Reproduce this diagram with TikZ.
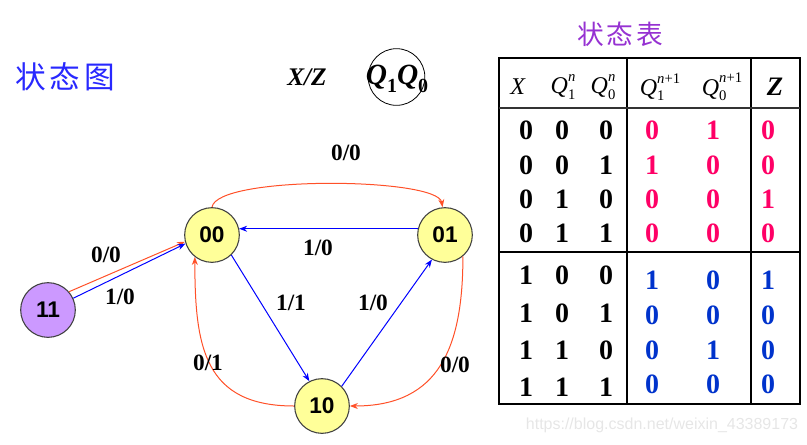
\documentclass[tikz,border=0pt]{standalone}
\usepackage{fontspec}
\setmainfont{Liberation Serif}
\newfontfamily\arial{Liberation Sans}
\newfontfamily\cjk{Noto Sans CJK SC}
\usetikzlibrary{arrows.meta}
\definecolor{stateyellow}{RGB}{255,255,153}
\definecolor{statepurple}{RGB}{204,153,255}
\definecolor{arcred}{RGB}{255,80,40}
\definecolor{tabpink}{RGB}{255,0,102}
\definecolor{tabblue}{RGB}{0,51,204}
\definecolor{titleblue}{RGB}{40,40,255}
\definecolor{titlepurple}{RGB}{150,50,210}
\definecolor{markgray}{RGB}{230,230,230}
\newcommand{\Qhd}[2]{\textit{Q}\rlap{\raisebox{-0.5ex}{\fontsize{11}{11}\selectfont #1}}\raisebox{1.1ex}{\fontsize{11}{11}\selectfont #2}}
\newcommand{\Qbig}[1]{\textbf{\textit{Q}}\raisebox{-0.55ex}{\fontsize{15}{15}\selectfont\textbf{#1}}}

\begin{document}
\begin{tikzpicture}[x=0.75pt,y=0.75pt,yscale=-1,xscale=1,
    stnode/.style={circle,draw=black!75,line width=0.8pt,minimum size=41pt,inner sep=0pt,fill=stateyellow,font=\arial\bfseries\fontsize{17}{17}\selectfont},
    lab/.style={inner sep=0.75pt,font=\bfseries\fontsize{17.5}{17.5}\selectfont},
    redarr/.style={draw=arcred,line width=0.75pt,-{Stealth[length=6pt,width=4.5pt]}},
    bluearr/.style={draw=blue,line width=0.75pt,-{Stealth[length=6pt,width=4.5pt]}},
    cell/.style={inner sep=0pt,font=\bfseries\fontsize{21}{21}\selectfont},
    head/.style={inner sep=0pt,font=\fontsize{18}{18}\selectfont},
    tabline/.style={line width=1.1pt}]
    \useasboundingbox (0,0) rectangle (807,444);
    \node (title1) at (65,77) [inner sep=0pt,text=titleblue,font=\cjk\fontsize{23}{23}\selectfont] {状\hspace{3pt}态\hspace{3pt}图};
    \node (xz) at (307,77) [inner sep=0pt,font=\bfseries\itshape\fontsize{19}{19}\selectfont] {X/Z};
    \node (key) at (396.5,77) [circle,draw,line width=0.6pt,minimum size=42.5pt,inner sep=0pt] {};
    \node (keytext) at (397,79) [inner sep=0pt,font=\fontsize{22}{22}\selectfont] {\Qbig{1}\Qbig{0}};
    \node (n00) at (212,235) [stnode] {00};
    \node (n01) at (445,235) [stnode] {01};
    \node (n10) at (322,406) [stnode] {10};
    \node (n11) at (48,310) [stnode,fill=statepurple] {11};
    \draw [redarr] (n00.90) .. controls +(5,-32) and +(-5,-30) .. (n01.95);
    \draw [bluearr] (n01.167) -- (n00.13);
    \draw [redarr] (n11.41) -- (n00.194);
    \draw [bluearr] (n11.25) -- (n00.198);
    \draw [bluearr] (n00.-46) -- (n10.117);
    \draw [bluearr] (n10.45) -- (n01.242);
    \draw [redarr] (n10.180) .. controls +(-90,0) and +(0,90) .. (n00.232);
    \draw [redarr] (n01.-50) .. controls +(0,90) and +(90,0) .. (n10.0);
    \node (l1) at (346,153) [lab] {0/0};
    \node (l2) at (318,248) [lab] {1/0};
    \node (l3) at (106,255) [lab] {0/0};
    \node (l4) at (120,297) [lab] {1/0};
    \node (l5) at (291,303) [lab] {1/1};
    \node (l6) at (373,303) [lab] {1/0};
    \node (l7) at (208,363) [lab] {0/1};
    \node (l8) at (455,365) [lab] {0/0};
    \node (title2) at (620,34) [inner sep=0pt,text=titlepurple,font=\cjk\fontsize{20}{20}\selectfont] {状\hspace{2pt}态\hspace{2pt}表};
    \draw [tabline,line width=1.3pt] (499,58) rectangle (800,404);
    \draw [tabline] (627,58) -- (627,404);
    \draw [tabline] (751,58) -- (751,404);
    \draw [line width=0.8pt,black!80] (499,108) -- (800,108);
    \draw [tabline] (499,252) -- (800,252);
    \node (hx) at (518,87) [head] {\textit{X}};
    \node (hq1) at (563,87) [head] {\Qhd{1}{\textit{n}}};
    \node (hq0) at (603,87) [head] {\Qhd{0}{\textit{n}}};
    \node (hq1n) at (660,87) [head] {\Qhd{1}{\textit{n}+1}};
    \node (hq0n) at (722,87) [head] {\Qhd{0}{\textit{n}+1}};
    \node (hz) at (775,87) [head,font=\bfseries\itshape\fontsize{20}{20}\selectfont] {Z};
    \node (a1) at (526,130) [cell] {0};
    \node (b1) at (562,130) [cell] {0};
    \node (c1) at (606,130) [cell] {0};
    \node (d1) at (652,130) [cell,text=tabpink] {0};
    \node (e1) at (713,130) [cell,text=tabpink] {1};
    \node (f1) at (768,130) [cell,text=tabpink] {0};
    \node (a2) at (526,165) [cell] {0};
    \node (b2) at (562,165) [cell] {0};
    \node (c2) at (606,165) [cell] {1};
    \node (d2) at (652,165) [cell,text=tabpink] {1};
    \node (e2) at (713,165) [cell,text=tabpink] {0};
    \node (f2) at (768,165) [cell,text=tabpink] {0};
    \node (a3) at (526,199) [cell] {0};
    \node (b3) at (562,199) [cell] {1};
    \node (c3) at (606,199) [cell] {0};
    \node (d3) at (652,199) [cell,text=tabpink] {0};
    \node (e3) at (713,199) [cell,text=tabpink] {0};
    \node (f3) at (768,199) [cell,text=tabpink] {1};
    \node (a4) at (526,233) [cell] {0};
    \node (b4) at (562,233) [cell] {1};
    \node (c4) at (606,233) [cell] {1};
    \node (d4) at (652,233) [cell,text=tabpink] {0};
    \node (e4) at (713,233) [cell,text=tabpink] {0};
    \node (f4) at (768,233) [cell,text=tabpink] {0};
    \node (a5) at (526,275) [cell] {1};
    \node (b5) at (562,275) [cell] {0};
    \node (c5) at (606,275) [cell] {0};
    \node (d5) at (652,280) [cell,text=tabblue] {1};
    \node (e5) at (713,280) [cell,text=tabblue] {0};
    \node (f5) at (768,280) [cell,text=tabblue] {1};
    \node (a6) at (526,313) [cell] {1};
    \node (b6) at (562,313) [cell] {0};
    \node (c6) at (606,313) [cell] {1};
    \node (d6) at (652,315) [cell,text=tabblue] {0};
    \node (e6) at (713,315) [cell,text=tabblue] {0};
    \node (f6) at (768,315) [cell,text=tabblue] {0};
    \node (a7) at (526,350) [cell] {1};
    \node (b7) at (562,350) [cell] {1};
    \node (c7) at (606,350) [cell] {0};
    \node (d7) at (652,350) [cell,text=tabblue] {0};
    \node (e7) at (713,350) [cell,text=tabblue] {1};
    \node (f7) at (768,350) [cell,text=tabblue] {0};
    \node (a8) at (526,387) [cell] {1};
    \node (b8) at (562,387) [cell] {1};
    \node (c8) at (606,387) [cell] {1};
    \node (d8) at (652,384) [cell,text=tabblue] {0};
    \node (e8) at (713,384) [cell,text=tabblue] {0};
    \node (f8) at (768,384) [cell,text=tabblue] {0};
    \node (mark) at (662,425) [inner sep=0pt,text=markgray,font=\arial\fontsize{12}{12}\selectfont] {https://blog.csdn.net/weixin\_43389173};
\end{tikzpicture}
\end{document}
